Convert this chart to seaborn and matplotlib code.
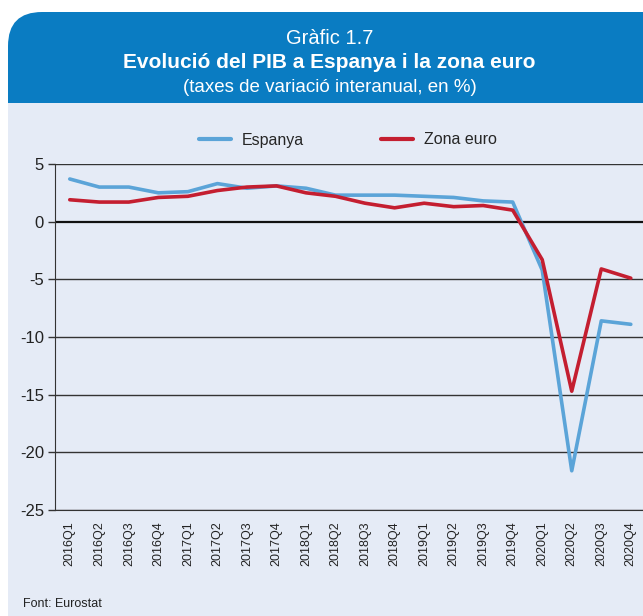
import numpy as np
import pandas as pd
import matplotlib
matplotlib.use("Agg")
import matplotlib.pyplot as plt
from matplotlib.patches import FancyBboxPatch, Rectangle
from matplotlib.lines import Line2D
import seaborn as sns

# quarters and year-on-year GDP growth (%)
quarters = ["2016Q1", "2016Q2", "2016Q3", "2016Q4", "2017Q1", "2017Q2", "2017Q3", "2017Q4",
            "2018Q1", "2018Q2", "2018Q3", "2018Q4", "2019Q1", "2019Q2", "2019Q3", "2019Q4",
            "2020Q1", "2020Q2", "2020Q3", "2020Q4"]
espanya = [3.7, 3.0, 3.0, 2.5, 2.6, 3.3, 2.9, 3.1, 2.9, 2.3, 2.3, 2.3, 2.2, 2.1, 1.8, 1.7,
           -4.2, -21.6, -8.6, -8.9]
zona_euro = [1.9, 1.7, 1.7, 2.1, 2.2, 2.7, 3.0, 3.1, 2.5, 2.2, 1.6, 1.2, 1.6, 1.3, 1.4, 1.0,
             -3.3, -14.7, -4.1, -4.9]
series_names = ["Espanya", "Zona euro"]
y_ticks = [5, 0, -5, -10, -15, -20, -25]

colors = {"Espanya": "#5ba4d8", "Zona euro": "#c41e30"}
header_color = "#0a7cc2"
panel_color = "#e5ebf6"

df = pd.DataFrame({
    "pos": list(range(len(quarters))) * 2,
    "valor": espanya + zona_euro,
    "serie": ["Espanya"] * len(quarters) + ["Zona euro"] * len(quarters),
})

sns.set_style("white")
plt.rcParams["font.family"] = ["Liberation Sans", "DejaVu Sans"]

W, H = 643, 616
fig = plt.figure(figsize=(W / 100, H / 100), dpi=100)

# background: header box with rounded top-left corner + light panel
bg = fig.add_axes([0, 0, 1, 1], zorder=0)
bg.set_xlim(0, W)
bg.set_ylim(H, 0)
bg.axis("off")
bg.add_patch(FancyBboxPatch((8, 12), 800, 200, boxstyle="round,pad=0,rounding_size=34",
                            facecolor=header_color, edgecolor="none"))
bg.add_patch(Rectangle((8, 103), 700, 600, facecolor=panel_color, edgecolor="none"))

cx = 0.5 + 8 / W
fig.text(cx, 1 - 39 / H, "Gràfic 1.7", color="white", ha="center", va="center", fontsize=14.5)
fig.text(cx, 1 - 62 / H, "Evolució del PIB a Espanya i la zona euro", color="white",
         ha="center", va="center", fontsize=15, fontweight="bold")
fig.text(cx, 1 - 87 / H, "(taxes de variació interanual, en %)", color="white",
         ha="center", va="center", fontsize=13.5)

ax = fig.add_axes([55 / W, 1 - 510 / H, (W - 55) / W + 0.004, (510 - 164) / H], zorder=1)
ax.set_facecolor("none")

sns.lineplot(data=df, x="pos", y="valor", hue="serie", palette=colors, linewidth=2.6,
             legend=False, ax=ax, zorder=3)

ax.set_xlim(-0.5, len(quarters) - 0.5)
ax.set_ylim(-25, 5)
ax.set_yticks(y_ticks)
ax.set_yticklabels([str(v) for v in y_ticks], fontsize=12, color="#222222")
ax.set_xticks(range(len(quarters)))
ax.set_xticklabels(quarters, rotation=90, fontsize=9, color="#222222")
ax.set_xticks(np.arange(-0.5, len(quarters), 1), minor=True)
ax.tick_params(axis="x", which="major", length=0, pad=8)
ax.tick_params(axis="x", which="minor", length=5, width=1, color="#333333", direction="out")
ax.tick_params(axis="y", length=5, width=1, color="#333333", direction="out", left=True, pad=3)
ax.set_xlabel("")
ax.set_ylabel("")

for v in y_ticks:
    ax.axhline(v, color="#333333" if v != 0 else "#111111", lw=1.0 if v != 0 else 1.6, zorder=1)
for s in ["top", "right"]:
    ax.spines[s].set_visible(False)
ax.spines["left"].set_color("#333333")
ax.spines["bottom"].set_color("#333333")

handles = [Line2D([0], [0], color=colors[n], lw=3) for n in series_names]
fig.legend(handles, series_names, loc="center", bbox_to_anchor=(348 / W, 1 - 140 / H), ncol=2,
           frameon=False, fontsize=11.5, handlelength=2.0, columnspacing=4.8, handletextpad=0.7)

fig.text(23 / W, 1 - 604 / H, "Font: Eurostat", fontsize=9, color="#222222", va="center")

fig.savefig("out.png", dpi=100)
